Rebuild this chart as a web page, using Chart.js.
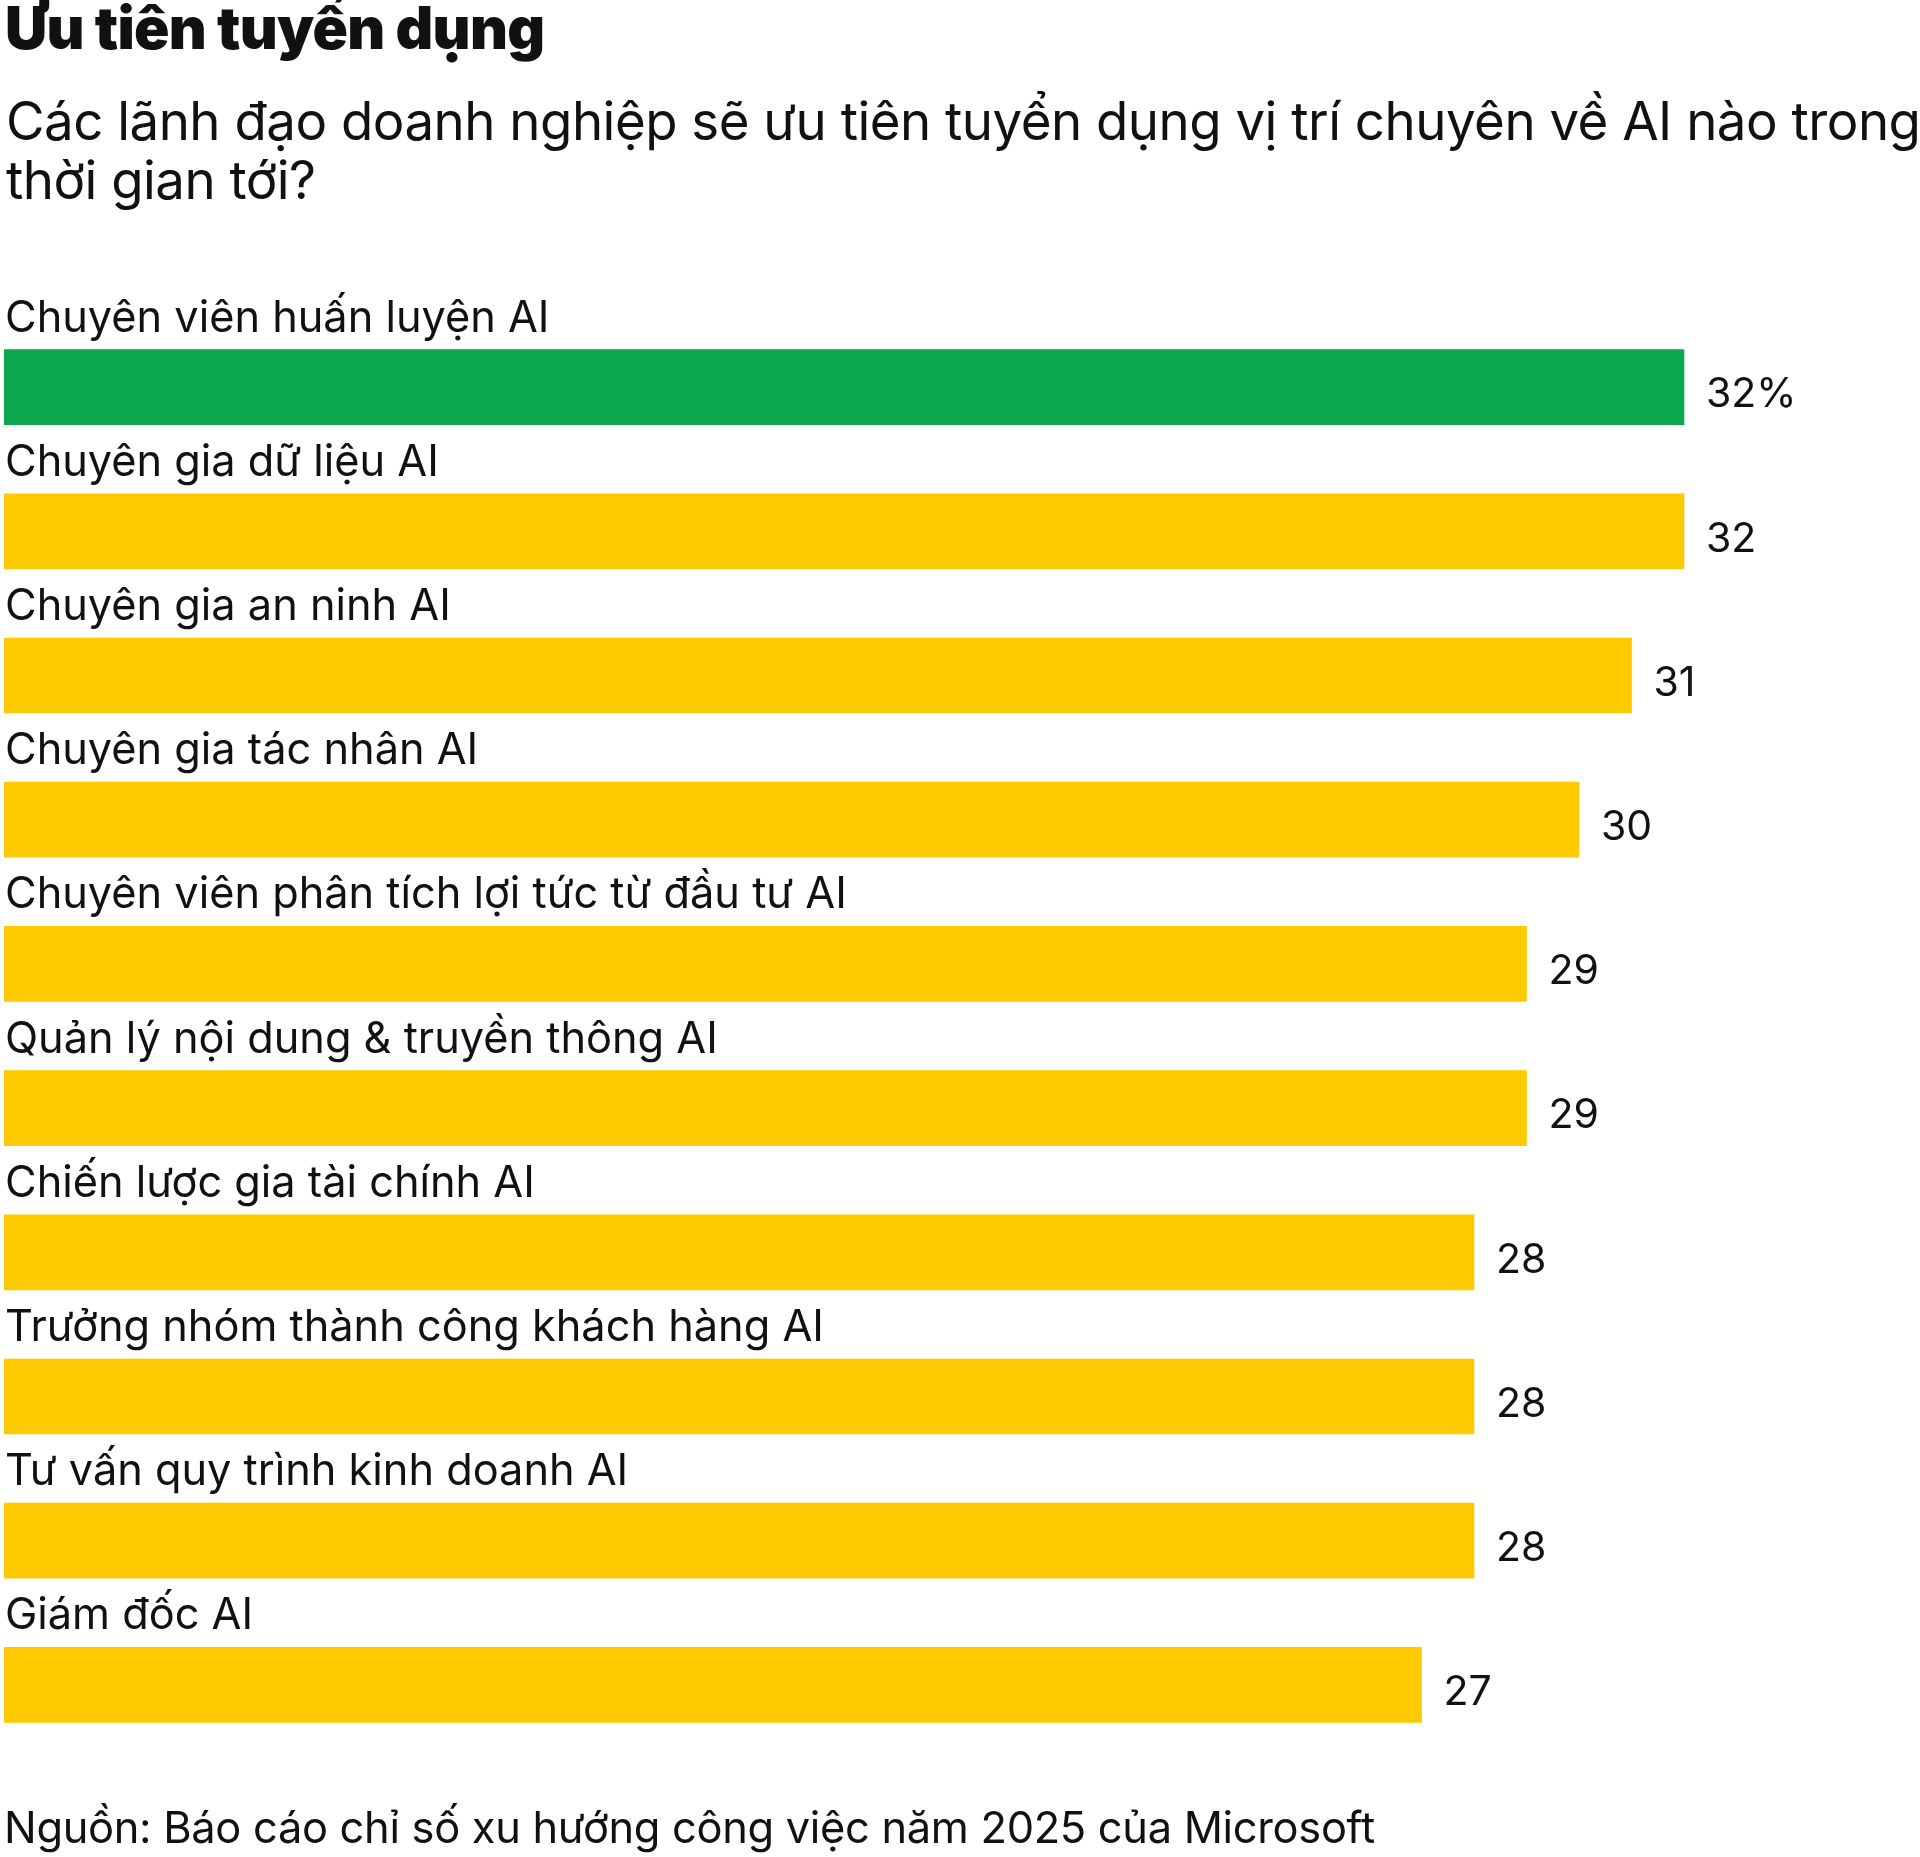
<!DOCTYPE html>
<html><head><meta charset="utf-8">
<script src="https://cdn.jsdelivr.net/npm/chart.js@4.4.1/dist/chart.umd.min.js"></script>
<style>
html,body{margin:0;padding:0;background:#fff;width:1920px;height:1857px;overflow:hidden;font-family:Inter,"Noto Sans",sans-serif;color:#111}
#title{position:absolute;left:5px;top:-1px;font-size:58.5px;font-weight:900;line-height:58px;white-space:nowrap;letter-spacing:-0.7px}
#sub{position:absolute;left:6px;top:92px;font-size:52.8px;line-height:59px;white-space:nowrap;letter-spacing:-0.5px}
#src{position:absolute;left:4px;top:1806px;font-size:43.4px;line-height:43px;white-space:nowrap;letter-spacing:-0.3px}
#wrap{position:absolute;left:0;top:0;width:1920px;height:1857px}
</style></head>
<body>
<div id="wrap"><canvas id="c" width="1920" height="1857"></canvas></div>
<div id="title">Ưu tiên tuyển dụng</div>
<div id="sub">Các lãnh đạo doanh nghiệp sẽ ưu tiên tuyển dụng vị trí chuyên về AI nào trong<br>thời gian tới?</div>
<div id="src">Nguồn: Báo cáo chỉ số xu hướng công việc năm 2025 của Microsoft</div>
<script>
const categories = [
  "Chuyên viên huấn luyện AI",
  "Chuyên gia dữ liệu AI",
  "Chuyên gia an ninh AI",
  "Chuyên gia tác nhân AI",
  "Chuyên viên phân tích lợi tức từ đầu tư AI",
  "Quản lý nội dung & truyền thông AI",
  "Chiến lược gia tài chính AI",
  "Trưởng nhóm thành công khách hàng AI",
  "Tư vấn quy trình kinh doanh AI",
  "Giám đốc AI"
];
const values = [32, 32, 31, 30, 29, 29, 28, 28, 28, 27];
const valueLabels = ["32%", "32", "31", "30", "29", "29", "28", "28", "28", "27"];
const highlightIndex = 0;

const GREEN = '#0da84e';
const YELLOW = '#fdca00';
const FONT = 'Inter, "Noto Sans", sans-serif';

const labelPlugin = {
  id: 'barLabels',
  afterDatasetsDraw(chart) {
    const ctx = chart.ctx;
    const meta = chart.getDatasetMeta(0);
    ctx.save();
    ctx.fillStyle = '#111';
    meta.data.forEach((bar, i) => {
      const top = bar.y - bar.height / 2;
      ctx.font = '43.3px ' + FONT;
      if ('letterSpacing' in ctx) ctx.letterSpacing = '0px';
      ctx.textAlign = 'left';
      ctx.textBaseline = 'alphabetic';
      ctx.fillText(categories[i], chart.chartArea.left + 1, top - 18);
      ctx.font = '41px ' + FONT;
      ctx.textBaseline = 'middle';
      ctx.fillText(valueLabels[i], bar.x + 22, bar.y + 8);
    });
    ctx.restore();
  }
};

new Chart(document.getElementById('c'), {
  type: 'bar',
  data: {
    labels: categories,
    datasets: [{
      data: values,
      backgroundColor: values.map((v, i) => i === highlightIndex ? GREEN : YELLOW),
      borderWidth: 0,
      barThickness: 75,
      categoryPercentage: 1,
      barPercentage: 1
    }]
  },
  options: {
    indexAxis: 'y',
    responsive: false,
    animation: false,
    devicePixelRatio: 1,
    layout: { padding: { left: 4, right: 26, top: 315, bottom: 100 } },
    plugins: { legend: { display: false }, tooltip: { enabled: false }, title: { display: false } },
    scales: {
      x: { min: 0, max: 36, display: false, grid: { display: false } },
      y: { display: false, grid: { display: false } }
    }
  },
  plugins: [labelPlugin]
});
</script>
</body></html>
